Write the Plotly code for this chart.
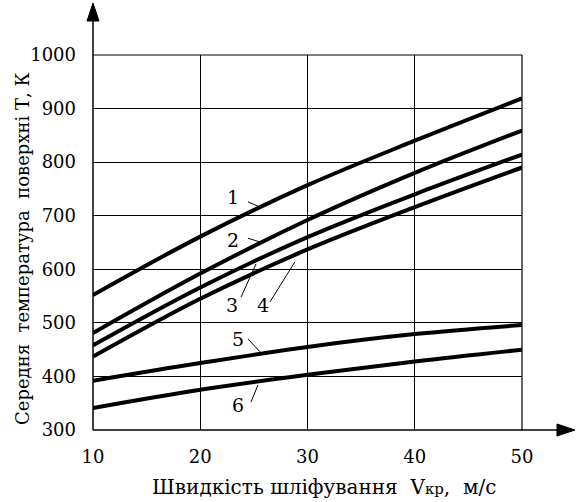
import plotly.graph_objects as go

# Data
speed = [10, 20, 30, 40, 50]
curve1 = [552, 661, 757, 840, 919]
curve2 = [481, 592, 692, 780, 859]
curve3 = [458, 566, 660, 740, 814]
curve4 = [437, 545, 637, 716, 790]
curve5 = [392, 425, 455, 479, 496]
curve6 = [341, 375, 403, 428, 450]
curves = [curve1, curve2, curve3, curve4, curve5, curve6]
curve_labels = ["1", "2", "3", "4", "5", "6"]

x_ticks = [10, 20, 30, 40, 50]
y_ticks = [300, 400, 500, 600, 700, 800, 900, 1000]

NB = "\u00a0"
x_title = f"Швидкість шліфування {NB}V<span style='font-size:15px'>кр</span>,{NB} м/с"
y_title = f"Середня {NB}температура {NB}поверхні Т, К"

# label positions (data coords) and leader lines
label_pos = [(23.05, 735), (23.05, 655), (22.96, 533), (25.85, 533), (23.52, 470), (23.52, 347)]
leaders = [((24.45, 726), (25.57, 716)),
           ((24.45, 658), (25.57, 651)),
           ((25.2, 610), (23.8, 548)),
           ((28.83, 614), (26.5, 539)),
           ((24.45, 470), (25.57, 446)),
           ((24.73, 352), (25.38, 384))]

FONT = "DejaVu Serif"

fig = go.Figure()
for c in curves:
    fig.add_trace(go.Scatter(x=speed, y=c, mode="lines",
                             line=dict(color="black", width=4, shape="spline"),
                             showlegend=False, hoverinfo="skip"))

annotations = []
for lab, (lx, ly) in zip(curve_labels, label_pos):
    annotations.append(dict(x=lx, y=ly, xref="x", yref="y", text=lab, showarrow=False,
                            font=dict(family=FONT, size=19, color="black")))

shapes = []
for (a, b) in leaders:
    shapes.append(dict(type="line", xref="x", yref="y", x0=a[0], y0=a[1], x1=b[0], y1=b[1],
                       line=dict(color="black", width=1)))

# plot area pixels: left 93, right 522, top 55, bottom 430
W, H = 577, 502
L, R, T, B = 93, 522, 55, 430
pw, ph = R - L, B - T
def px(xp):
    return (xp - L) / pw
def py(yp):
    return (B - yp) / ph

# axis titles as annotations
annotations.append(dict(x=px(324), y=py(487), xref="paper", yref="paper", text=x_title,
                        showarrow=False, xanchor="center", yanchor="middle",
                        font=dict(family=FONT, size=20, color="black")))
annotations.append(dict(x=px(22), y=py(249), xref="paper", yref="paper", text=y_title,
                        showarrow=False, xanchor="center", yanchor="middle", textangle=-90,
                        font=dict(family=FONT, size=18, color="black")))

# axes with arrows
shapes.append(dict(type="line", xref="paper", yref="paper", x0=0, y0=0, x1=0, y1=py(15),
                   line=dict(color="black", width=1.5)))
shapes.append(dict(type="path", xref="paper", yref="paper",
                   path=f"M {px(93)},{py(3)} L {px(87)},{py(21)} L {px(99)},{py(21)} Z",
                   fillcolor="black", line=dict(color="black", width=1)))
shapes.append(dict(type="line", xref="paper", yref="paper", x0=0, y0=0, x1=px(565), y1=0,
                   line=dict(color="black", width=1.5)))
shapes.append(dict(type="path", xref="paper", yref="paper",
                   path=f"M {px(575)},{py(430)} L {px(557)},{py(424)} L {px(557)},{py(436)} Z",
                   fillcolor="black", line=dict(color="black", width=1)))
# top and right frame
shapes.append(dict(type="line", xref="paper", yref="paper", x0=0, y0=1, x1=1, y1=1,
                   line=dict(color="black", width=1.2)))
shapes.append(dict(type="line", xref="paper", yref="paper", x0=1, y0=0, x1=1, y1=1,
                   line=dict(color="black", width=1.2)))

fig.update_layout(
    width=W, height=H,
    margin=dict(l=L, r=W - R, t=T, b=H - B),
    paper_bgcolor="white", plot_bgcolor="white",
    font=dict(family=FONT, size=18, color="black"),
    annotations=annotations, shapes=shapes,
    xaxis=dict(range=[10, 50], tickvals=x_ticks, showgrid=True, gridcolor="black", gridwidth=1,
               zeroline=False, showline=False, ticks="", ticklabelstandoff=14,
               tickfont=dict(family=FONT, size=18)),
    yaxis=dict(range=[300, 1000], tickvals=y_ticks, showgrid=True, gridcolor="black", gridwidth=1,
               zeroline=False, showline=False, ticks="", ticklabelstandoff=16,
               tickfont=dict(family=FONT, size=18)),
)

fig.write_html("out.html")
